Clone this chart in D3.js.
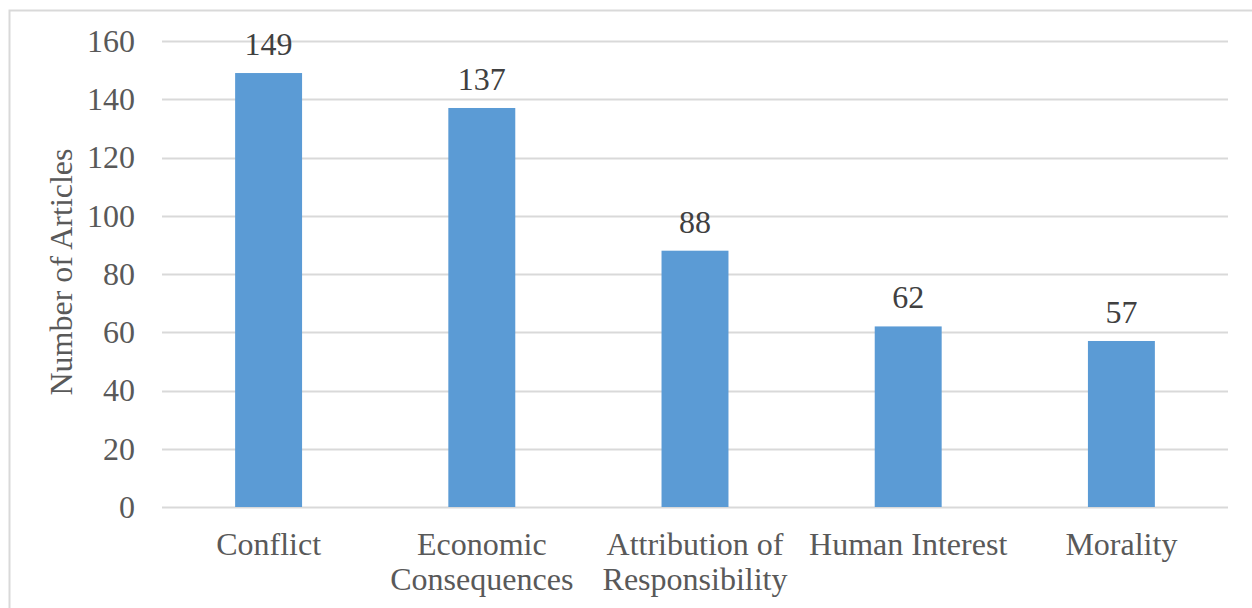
<!DOCTYPE html>
<html>
<head>
<meta charset="utf-8">
<script src="https://cdn.jsdelivr.net/npm/d3@7"></script>
<style>
  body { margin: 0; background: #fff; }
  text { font-family: "Liberation Serif", "Times New Roman", serif; }
</style>
</head>
<body>
<div id="chart"></div>
<script>
// Data
const categories = ['Conflict', 'Economic Consequences', 'Attribution of Responsibility', 'Human Interest', 'Morality']
const categoryLines = [['Conflict'], ['Economic', 'Consequences'], ['Attribution of', 'Responsibility'], ['Human Interest'], ['Morality']]
const articles = [149, 137, 88, 62, 57]
const yTicks = [0, 20, 40, 60, 80, 100, 120, 140, 160]

// Dimensions
const dimensions = {
  width: 1252,
  height: 608,
  margin: { top: 41, bottom: 101, left: 162, right: 24 }
}
dimensions.ctrWidth = dimensions.width - dimensions.margin.left - dimensions.margin.right
dimensions.ctrHeight = dimensions.height - dimensions.margin.top - dimensions.margin.bottom

const fontSize = '32px'

const svg = d3.select('#chart')
  .append('svg')
  .attr('width', dimensions.width)
  .attr('height', dimensions.height)

// chart border
svg.append('rect')
  .attr('x', 9.5)
  .attr('y', 10.5)
  .attr('width', 1260)
  .attr('height', 620)
  .attr('fill', 'none')
  .attr('stroke', '#d9d9d9')
  .attr('stroke-width', 2)

const ctr = svg.append('g')
  .attr('transform', `translate(${dimensions.margin.left}, ${dimensions.margin.top})`)

// Scales
const xScale = d3.scaleBand()
  .domain(categories)
  .range([0, dimensions.ctrWidth])
  .paddingInner(0.686)
  .paddingOuter(0.343)

const yScale = d3.scaleLinear()
  .domain([0, 160])
  .range([dimensions.ctrHeight, 0])

// Gridlines
ctr.append('g')
  .selectAll('line')
  .data(yTicks)
  .join('line')
  .attr('x1', 0)
  .attr('x2', dimensions.ctrWidth)
  .attr('y1', d => Math.round(yScale(d)) + 0.5)
  .attr('y2', d => Math.round(yScale(d)) + 0.5)
  .attr('stroke', '#d9d9d9')
  .attr('stroke-width', 2)

// Bars
ctr.append('g')
  .selectAll('rect')
  .data(articles)
  .join('rect')
  .attr('x', (d, i) => xScale(categories[i]))
  .attr('y', d => yScale(d))
  .attr('width', xScale.bandwidth())
  .attr('height', d => dimensions.ctrHeight - yScale(d))
  .attr('fill', '#5b9bd5')

// Data labels
ctr.append('g')
  .selectAll('text')
  .data(articles)
  .join('text')
  .attr('x', (d, i) => xScale(categories[i]) + xScale.bandwidth() / 2)
  .attr('y', d => yScale(d) - 18)
  .attr('text-anchor', 'middle')
  .attr('fill', '#404040')
  .style('font-size', fontSize)
  .text(d => d)

// Y axis
const yAxis = d3.axisLeft(yScale)
  .tickValues(yTicks)
  .tickSize(0)
  .tickPadding(27)

const yAxisGroup = ctr.append('g').call(yAxis)
yAxisGroup.select('.domain').remove()
yAxisGroup.selectAll('text')
  .attr('fill', '#595959')
  .style('font-size', fontSize)
  .style('font-family', '"Liberation Serif", "Times New Roman", serif')

yAxisGroup.append('text')
  .text('Number of Articles')
  .attr('fill', '#595959')
  .attr('x', -dimensions.ctrHeight / 2 + 2)
  .attr('y', -dimensions.margin.left + 72)
  .attr('transform', 'rotate(-90)')
  .attr('text-anchor', 'middle')
  .style('font-size', fontSize)

// X axis
const xAxisGroup = ctr.append('g')
  .attr('transform', `translate(0, ${dimensions.ctrHeight})`)

xAxisGroup.selectAll('text')
  .data(categories)
  .join('text')
  .attr('x', d => xScale(d) + xScale.bandwidth() / 2)
  .attr('y', 48)
  .attr('text-anchor', 'middle')
  .attr('fill', '#595959')
  .style('font-size', fontSize)
  .selectAll('tspan')
  .data((d, i) => categoryLines[i])
  .join('tspan')
  .attr('x', function () { return d3.select(this.parentNode).attr('x') })
  .attr('dy', (d, i) => i === 0 ? 0 : 35)
  .text(d => d)
</script>
</body>
</html>
